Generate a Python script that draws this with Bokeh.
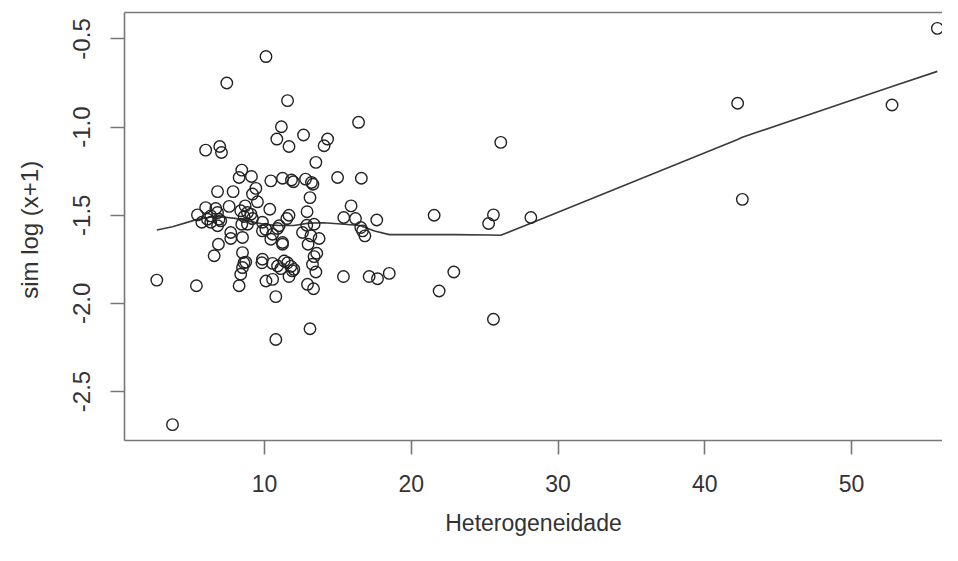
from bokeh.plotting import figure
from bokeh.models import Range1d, LinearAxis, FixedTicker, PrintfTickFormatter
from bokeh.embed import file_html
from bokeh.resources import INLINE

# scatter data: Heterogeneidade (x) vs sim log(x+1) (y)
het = [55.85, 42.24, 52.76, 42.56,
       16.41, 12.66, 14.3, 14.06, 26.1, 13.5, 12.8, 13.2, 13.3, 14.98, 16.6, 13.1, 15.9, 12.9,
       15.4, 16.2, 17.65, 21.56, 25.6, 25.27, 28.15, 13.38, 12.88, 12.59, 16.56, 16.68, 16.84,
       13.16, 13.72, 12.97, 13.56, 13.38, 13.27, 13.5, 15.38, 17.13, 17.7, 18.5, 22.9, 21.9,
       12.93, 13.34, 25.6, 13.1,
       10.1, 7.43, 11.57, 11.15, 10.84, 11.67, 5.99, 6.95, 7.07, 8.45, 8.27, 9.11, 10.43, 11.23,
       11.84, 11.97, 9.41, 9.18, 6.8, 7.86, 9.52, 8.68, 8.38, 7.59, 5.99, 6.68, 5.43, 6.34,
       10.36, 11.67, 11.52, 8.84, 8.61, 9.18, 6.9, 6.8, 6.34, 5.73, 8.45, 9.86, 9.86, 11.0,
       10.55, 10.89, 7.7, 7.7, 8.5, 11.23, 11.23, 6.86, 8.5, 6.57, 10.43, 8.6, 8.72, 8.5, 8.38,
       8.27, 9.82, 10.55, 10.89, 11.11, 11.57, 11.8, 12.0, 11.9, 11.67, 10.1, 10.55, 2.66, 5.36,
       10.77, 10.77, 3.73,
       6.8, 6.11, 7.02, 9.07, 8.84, 10.09, 11.34, 9.86]
sim = [-0.44, -0.865, -0.875, -1.41,
       -0.973, -1.045, -1.068, -1.106, -1.087, -1.20, -1.295, -1.314, -1.324, -1.286, -1.29,
       -1.40, -1.447, -1.48, -1.513, -1.519, -1.527, -1.50, -1.498, -1.547, -1.513, -1.551,
       -1.557, -1.598, -1.57, -1.589, -1.617, -1.617, -1.632, -1.665, -1.716, -1.735, -1.778,
       -1.822, -1.848, -1.848, -1.86, -1.83, -1.822, -1.93, -1.892, -1.917, -2.09, -2.144,
       -0.60, -0.75, -0.85, -0.998, -1.068, -1.11, -1.131, -1.11, -1.144, -1.244, -1.286, -1.28,
       -1.305, -1.29, -1.30, -1.31, -1.348, -1.38, -1.366, -1.366, -1.424, -1.447, -1.475,
       -1.45, -1.457, -1.462, -1.498, -1.504, -1.466, -1.50, -1.519, -1.485, -1.507, -1.519,
       -1.523, -1.56, -1.54, -1.54, -1.551, -1.54, -1.589, -1.56, -1.608, -1.575, -1.598,
       -1.632, -1.626, -1.655, -1.665, -1.665, -1.712, -1.73, -1.636, -1.77, -1.766, -1.797,
       -1.835, -1.90, -1.77, -1.773, -1.788, -1.803, -1.77, -1.79, -1.807, -1.816, -1.848,
       -1.873, -1.864, -1.868, -1.90, -1.962, -2.205, -2.688,
       -1.485, -1.523, -1.532, -1.494, -1.551, -1.58, -1.76, -1.75]

# smoothed (lowess) curve vertices
fit_x = [2.66, 3.73, 5.36, 6.7, 8.0, 9.0, 10.0, 11.0, 12.0, 13.0, 14.0, 15.0, 16.5, 17.5,
         18.5, 21.6, 22.9, 25.3, 26.1, 28.15, 42.24, 42.56, 52.76, 55.85]
fit_y = [-1.584, -1.565, -1.525, -1.506, -1.518, -1.535, -1.552, -1.558, -1.558, -1.545,
         -1.543, -1.548, -1.558, -1.59, -1.61, -1.61, -1.61, -1.612, -1.614, -1.545, -1.07,
         -1.058, -0.77, -0.684]

x_ticks = [10, 20, 30, 40, 50]
y_ticks = [-2.5, -2.0, -1.5, -1.0, -0.5]

AX = "#777777"
TXT = "#333333"

p = figure(width=942, height=545, output_backend="svg", toolbar_location=None,
           x_range=Range1d(0.46, 56.2), y_range=Range1d(-2.778, -0.350),
           x_axis_label="Heterogeneidade", y_axis_label="sim  log (x+1)",
           min_border_left=124, min_border_right=0, min_border_top=12, min_border_bottom=105)
p.outline_line_color = None
p.xgrid.visible = False
p.ygrid.visible = False
p.background_fill_color = "white"

p.xaxis.ticker = FixedTicker(ticks=x_ticks)
p.yaxis.ticker = FixedTicker(ticks=y_ticks)
p.yaxis.formatter = PrintfTickFormatter(format="%.1f")
for ax in (p.xaxis, p.yaxis):
    ax.axis_line_color = AX
    ax.axis_line_width = 1.6
    ax.major_tick_line_color = AX
    ax.major_tick_line_width = 1.6
    ax.major_tick_out = 14
    ax.major_tick_in = 0
    ax.minor_tick_line_color = None
    ax.major_label_text_font = "Liberation Sans"
    ax.major_label_text_color = TXT
    ax.axis_label_text_font = "Liberation Sans"
    ax.axis_label_text_font_style = "normal"
    ax.axis_label_text_color = TXT

p.xaxis.major_label_text_font_size = "23px"
p.xaxis.axis_label_text_font_size = "23px"
p.xaxis.major_label_standoff = 20
p.xaxis.axis_label_standoff = 15
p.yaxis.major_label_text_font_size = "24px"
p.yaxis.axis_label_text_font_size = "24px"
p.yaxis.major_label_orientation = "parallel"
p.yaxis.major_label_standoff = 20
p.yaxis.axis_label_standoff = 28

top = LinearAxis(ticker=FixedTicker(ticks=[]), axis_line_color=AX, axis_line_width=1.6,
                 major_tick_line_color=None, minor_tick_line_color=None,
                 major_label_text_font_size="0px", major_label_standoff=0)
p.add_layout(top, "above")

p.line(fit_x, fit_y, line_color="#3a3a3a", line_width=1.6)
p.scatter(het, sim, marker="circle", size=11.5, fill_color=None,
          line_color="#222222", line_width=1.4)

open("out.html", "w").write(file_html(p, INLINE))
